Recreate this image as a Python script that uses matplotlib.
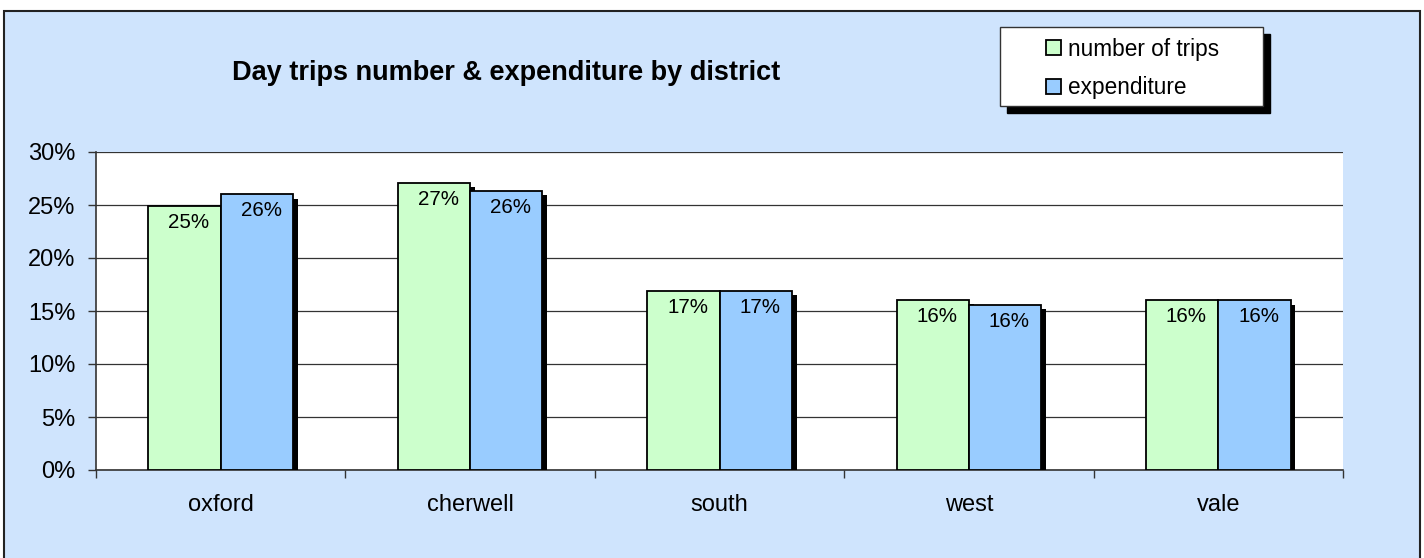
import matplotlib
matplotlib.use("Agg")
import matplotlib.pyplot as plt
import matplotlib.patheffects as pe
from matplotlib.patches import Rectangle
import numpy as np

districts = ["oxford", "cherwell", "south", "west", "vale"]
trips = [24.9, 27.05, 16.9, 16.05, 16.05]
expenditure = [26.0, 26.3, 16.9, 15.6, 16.0]
series_names = ["number of trips", "expenditure"]
yticks = [0, 5, 10, 15, 20, 25, 30]

plt.rcParams["font.family"] = ["Liberation Sans", "DejaVu Sans"]

W, H = 1424, 558
fig = plt.figure(figsize=(W / 100, H / 100), dpi=100)
fig.patch.set_facecolor("white")

bg = "#cfe4fd"
# outer chart area with border
fig.patches.append(Rectangle((4 / W, -0.02), 1416 / W, 1.02 - 11 / H,
                             transform=fig.transFigure, facecolor=bg,
                             edgecolor="#222222", linewidth=1.5, zorder=-5))

ax = fig.add_axes([96 / W, 1 - 470 / H, (1343 - 96) / W, (470 - 152) / H])
ax.set_zorder(3)
ax.set_facecolor("white")

x = np.arange(len(districts))
bw = 0.29
shadow = [pe.SimplePatchShadow(offset=(3.5, -3), shadow_rgbFace="black", alpha=1.0), pe.Normal()]

b1 = ax.bar(x - bw / 2, trips, bw, color="#ccffcc", edgecolor="black",
            linewidth=1.3, zorder=3, path_effects=shadow)
b2 = ax.bar(x + bw / 2, expenditure, bw, color="#99ccff", edgecolor="black",
            linewidth=1.3, zorder=4, path_effects=shadow)

for bars, vals in [(b1, trips), (b2, expenditure)]:
    for rect, v in zip(bars, vals):
        ax.annotate(f"{v:.0f}%", xy=(rect.get_x() + rect.get_width() / 2, v),
                    xytext=(3, -5), textcoords="offset points",
                    ha="center", va="top", fontsize=14.8, zorder=6)

ax.set_xlim(-0.5, len(districts) - 0.5)
ax.set_ylim(0, 30)
ax.set_yticks(yticks)
ax.set_yticklabels([f"{t}%" for t in yticks], fontsize=17)
ax.yaxis.grid(True, color="#333333", linewidth=0.9, zorder=1)
ax.set_axisbelow(True)

ax.set_xticks(x)
ax.set_xticklabels(districts, fontsize=17)
ax.set_xticks(np.arange(-0.5, len(districts)), minor=True)
ax.tick_params(axis="x", which="major", length=0, pad=17)
ax.tick_params(axis="x", which="minor", length=6, width=1, color="#333333", direction="out")
ax.tick_params(axis="y", length=6, width=1, color="#333333", pad=9)

for s in ["top", "right"]:
    ax.spines[s].set_visible(False)
for s in ["left", "bottom"]:
    ax.spines[s].set_color("#333333")
    ax.spines[s].set_linewidth(1.2)

fig.text(506 / W, 1 - 73 / H, "Day trips number & expenditure by district",
         ha="center", va="center", fontsize=19.5, fontweight="bold")

# legend box with shadow
lx, ly, lw, lh = 1000, 27, 263, 79
fig.patches.append(Rectangle(((lx + 7) / W, 1 - (ly + lh + 7) / H), lw / W, lh / H,
                             transform=fig.transFigure, facecolor="black",
                             edgecolor="black", zorder=1))
fig.patches.append(Rectangle((lx / W, 1 - (ly + lh) / H), lw / W, lh / H,
                             transform=fig.transFigure, facecolor="white",
                             edgecolor="#333333", linewidth=1, zorder=2))
leg = fig.legend([b1, b2], series_names, loc="center",
                 bbox_to_anchor=((lx + lw / 2 + 1) / W, 1 - (ly + lh / 2 + 2) / H),
                 frameon=False, fontsize=16.3, handlelength=0.65, handleheight=0.65,
                 handletextpad=0.3, labelspacing=0.7)
leg.set_zorder(4)
for h in leg.legend_handles:
    h.set_path_effects([])

fig.savefig("out.png", dpi=100)
